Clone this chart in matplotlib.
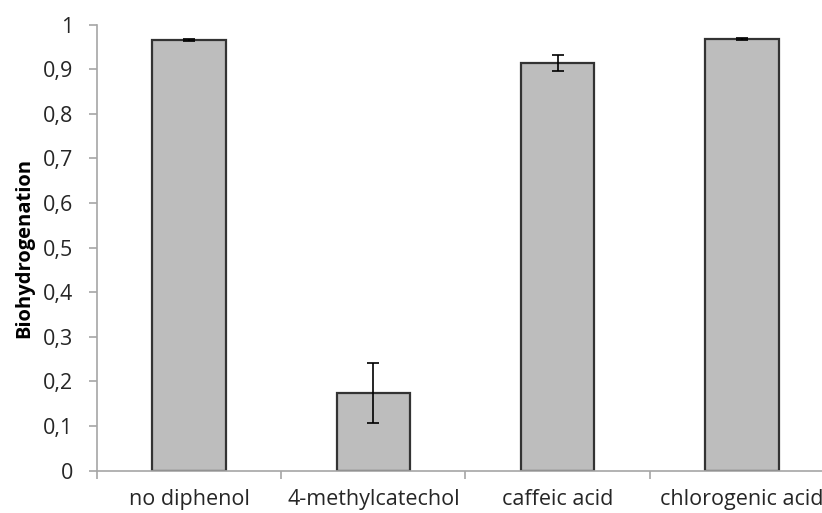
import numpy as np
import matplotlib
matplotlib.use('Agg')
import matplotlib.pyplot as plt
from matplotlib.ticker import FuncFormatter, FixedLocator

# biohydrogenation by treatment, mean and error
treatments = ['no diphenol', '4-methylcatechol', 'caffeic acid', 'chlorogenic acid']
biohydrogenation = [0.965, 0.174, 0.914, 0.967]
errors = [0.003, 0.068, 0.018, 0.002]

plt.rcParams['font.family'] = ['Open Sans', 'DejaVu Sans']

fig = plt.figure(figsize=(8.22, 5.13), dpi=100)
ax = fig.add_axes([0.118, 0.0828, 0.8966, 0.8694])

x = np.arange(len(treatments))
ax.bar(x, biohydrogenation, width=0.4, color='#bdbdbd', edgecolor='#333333',
       linewidth=1.6, zorder=2)
ax.errorbar(x, biohydrogenation, yerr=errors, fmt='none', ecolor='black',
            elinewidth=1.2, capsize=4, capthick=1.2, zorder=3)

ax.set_xlim(-0.5, 3.5)
ax.set_ylim(0, 1)
ax.set_yticks(np.arange(0, 1.01, 0.1))
ax.yaxis.set_major_formatter(FuncFormatter(
    lambda v, p: '0' if abs(v) < 1e-9 else ('1' if abs(v - 1) < 1e-9 else f'{v:.1f}'.replace('.', ','))))

# category labels at centres, tick marks at the boundaries
ax.set_xticks(x)
ax.set_xticklabels(treatments)
ax.xaxis.set_minor_locator(FixedLocator([-0.5, 0.5, 1.5, 2.5]))
ax.tick_params(axis='x', which='major', length=0, pad=13, labelsize=15.5, colors='#262626')
ax.tick_params(axis='x', which='minor', length=6, width=1.2, color='#a6a6a6', direction='out')
ax.tick_params(axis='y', length=6, width=1.2, color='#a6a6a6', labelsize=15.5,
               labelcolor='#262626', pad=11)

for side in ['top', 'right']:
    ax.spines[side].set_visible(False)
for side in ['left', 'bottom']:
    ax.spines[side].set_color('#a6a6a6')
    ax.spines[side].set_linewidth(1.2)

ax.set_ylabel('Biohydrogenation', fontsize=14.5, fontweight='bold', labelpad=6)

fig.savefig('out.png', dpi=100)
